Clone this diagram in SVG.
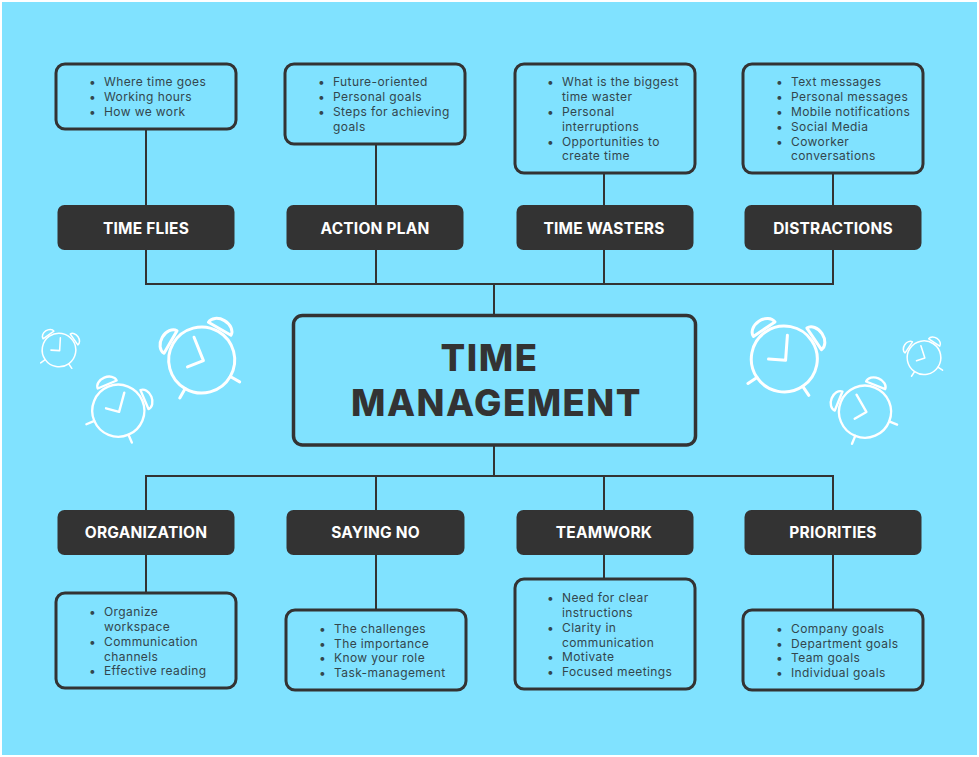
<svg xmlns="http://www.w3.org/2000/svg" width="979" height="757" viewBox="0 0 979 757">
<style>
.box{fill:none;stroke:#333;stroke-width:3}
.dark{fill:#333}
.c{fill:none;stroke:#333;stroke-width:2}
.t{font:400 12px Inter,"Noto Sans",sans-serif;fill:#33464d;letter-spacing:.4px}
.h{font:700 15.500px Inter,"Noto Sans",sans-serif;fill:#fff;text-anchor:middle;letter-spacing:.2px}
.m{font:800 36.500px Inter,"Noto Sans",sans-serif;fill:#333;text-anchor:middle;letter-spacing:1.500px}
.k *{fill:none;stroke:#fff;stroke-width:3;stroke-linecap:round;stroke-linejoin:round}
</style>
<defs>
<g id="clock" class="k">
<circle r="33"/>
<path d="M0-24 3 1-14 3" transform="translate(-1.500 0)"/>
<path d="M23.300 23.300 31 31M-23.300 23.300-31 31"/>
<path d="M-13-36A13 9.500 0 0 1 13-36Z" transform="rotate(45)"/>
<path d="M-13-36A13 9.500 0 0 1 13-36Z" transform="rotate(-45)"/>
</g>
</defs>
<rect width="979" height="757" fill="#fff"/>
<rect x="2" y="2" width="975" height="753" fill="#80e2ff"/>
<g id="connectors">
<path class="c" d="M146 129V206M376 144V206M604 173V206M833 173V206M146 250V284H833V250M376 250V284M604 250V284M494 284V316M494 445V476M146 510V476H833V510M376 476V510M604 476V510M146 554V593M376 554V610M604 554V579M833 554V610"/>
</g>
<g id="clocks">
<use href="#clock" transform="translate(201.700 360) rotate(-15)"/>
<use href="#clock" transform="translate(118.300 410.700) rotate(22) scale(.79)"/>
<use href="#clock" transform="translate(59 350) rotate(10) scale(.51)"/>
<use href="#clock" transform="translate(784.300 359) rotate(11)"/>
<use href="#clock" transform="translate(865 411.700) rotate(-23) scale(.79)"/>
<use href="#clock" transform="translate(924 357.700) rotate(-11) scale(.51)"/>
</g>
<g id="center"><rect class="box" style="stroke-width:3.500" x="293.500" y="315.500" width="402" height="129.500" rx="9"/>
<text class="m" x="489.500" y="371">TIME</text><text class="m" x="496.500" y="415.500">MANAGEMENT</text></g>
<g id="n-time-flies"><rect class="dark" x="57.500" y="205" width="177" height="45" rx="7"/><text class="h" x="146" y="233.500">TIME FLIES</text></g>
<g id="n-action-plan"><rect class="dark" x="286.500" y="205" width="177" height="45" rx="7"/><text class="h" x="375" y="233.500">ACTION PLAN</text></g>
<g id="n-time-wasters"><rect class="dark" x="516.500" y="205" width="177" height="45" rx="7"/><text class="h" x="604" y="233.500">TIME WASTERS</text></g>
<g id="n-distractions"><rect class="dark" x="744.500" y="205" width="177" height="45" rx="7"/><text class="h" x="833" y="233.500">DISTRACTIONS</text></g>
<g id="n-organization"><rect class="dark" x="57.500" y="510" width="177" height="45" rx="7"/><text class="h" x="146" y="538">ORGANIZATION</text></g>
<g id="n-saying-no"><rect class="dark" x="286.500" y="510" width="178" height="45" rx="7"/><text class="h" x="375.500" y="538">SAYING NO</text></g>
<g id="n-teamwork"><rect class="dark" x="516.500" y="510" width="177" height="45" rx="7"/><text class="h" x="604" y="538">TEAMWORK</text></g>
<g id="n-priorities"><rect class="dark" x="744.500" y="510" width="177" height="45" rx="7"/><text class="h" x="833" y="538">PRIORITIES</text></g>
<g id="d-time-flies"><rect class="box" x="56" y="64" width="180" height="65" rx="9"/>
<text class="t"><tspan x="89" y="86">•</tspan><tspan x="104" y="86">Where time goes</tspan><tspan x="89" y="101">•</tspan><tspan x="104" y="101">Working hours</tspan><tspan x="89" y="116">•</tspan><tspan x="104" y="116">How we work</tspan></text></g>
<g id="d-action-plan"><rect class="box" x="285" y="64" width="180" height="80" rx="9"/>
<text class="t"><tspan x="318" y="86">•</tspan><tspan x="333" y="86">Future-oriented</tspan><tspan x="318" y="101">•</tspan><tspan x="333" y="101">Personal goals</tspan><tspan x="318" y="116">•</tspan><tspan x="333" y="116">Steps for achieving</tspan><tspan x="333" y="131">goals</tspan></text></g>
<g id="d-time-wasters"><rect class="box" x="515" y="64" width="180" height="109" rx="9"/>
<text class="t"><tspan x="547" y="86">•</tspan><tspan x="562" y="86">What is the biggest</tspan><tspan x="562" y="101">time waster</tspan><tspan x="547" y="116">•</tspan><tspan x="562" y="116">Personal</tspan><tspan x="562" y="131">interruptions</tspan><tspan x="547" y="145.500">•</tspan><tspan x="562" y="145.500">Opportunities to</tspan><tspan x="562" y="160">create time</tspan></text></g>
<g id="d-distractions"><rect class="box" x="743" y="64" width="180" height="109" rx="9"/>
<text class="t"><tspan x="776" y="86">•</tspan><tspan x="791" y="86">Text messages</tspan><tspan x="776" y="101">•</tspan><tspan x="791" y="101">Personal messages</tspan><tspan x="776" y="116">•</tspan><tspan x="791" y="116">Mobile notifications</tspan><tspan x="776" y="130.500">•</tspan><tspan x="791" y="130.500">Social Media</tspan><tspan x="776" y="145.500">•</tspan><tspan x="791" y="145.500">Coworker</tspan><tspan x="791" y="160">conversations</tspan></text></g>
<g id="d-organization"><rect class="box" x="56" y="593" width="180" height="95" rx="9"/>
<text class="t"><tspan x="89" y="616">•</tspan><tspan x="104" y="616">Organize</tspan><tspan x="104" y="631">workspace</tspan><tspan x="89" y="645.500">•</tspan><tspan x="104" y="645.500">Communication</tspan><tspan x="104" y="660.500">channels</tspan><tspan x="89" y="675">•</tspan><tspan x="104" y="675">Effective reading</tspan></text></g>
<g id="d-saying-no"><rect class="box" x="286" y="610" width="180" height="80" rx="9"/>
<text class="t"><tspan x="319" y="632.500">•</tspan><tspan x="334" y="632.500">The challenges</tspan><tspan x="319" y="647.500">•</tspan><tspan x="334" y="647.500">The importance</tspan><tspan x="319" y="662">•</tspan><tspan x="334" y="662">Know your role</tspan><tspan x="319" y="677">•</tspan><tspan x="334" y="677">Task-management</tspan></text></g>
<g id="d-teamwork"><rect class="box" x="515" y="579" width="180" height="110" rx="9"/>
<text class="t"><tspan x="547" y="602">•</tspan><tspan x="562" y="602">Need for clear</tspan><tspan x="562" y="616.500">instructions</tspan><tspan x="547" y="631.500">•</tspan><tspan x="562" y="631.500">Clarity in</tspan><tspan x="562" y="646.500">communication</tspan><tspan x="547" y="661">•</tspan><tspan x="562" y="661">Motivate</tspan><tspan x="547" y="676">•</tspan><tspan x="562" y="676">Focused meetings</tspan></text></g>
<g id="d-priorities"><rect class="box" x="743" y="610" width="180" height="80" rx="9"/>
<text class="t"><tspan x="776" y="632.500">•</tspan><tspan x="791" y="632.500">Company goals</tspan><tspan x="776" y="647.500">•</tspan><tspan x="791" y="647.500">Department goals</tspan><tspan x="776" y="662">•</tspan><tspan x="791" y="662">Team goals</tspan><tspan x="776" y="677">•</tspan><tspan x="791" y="677">Individual goals</tspan></text></g>
</svg>
